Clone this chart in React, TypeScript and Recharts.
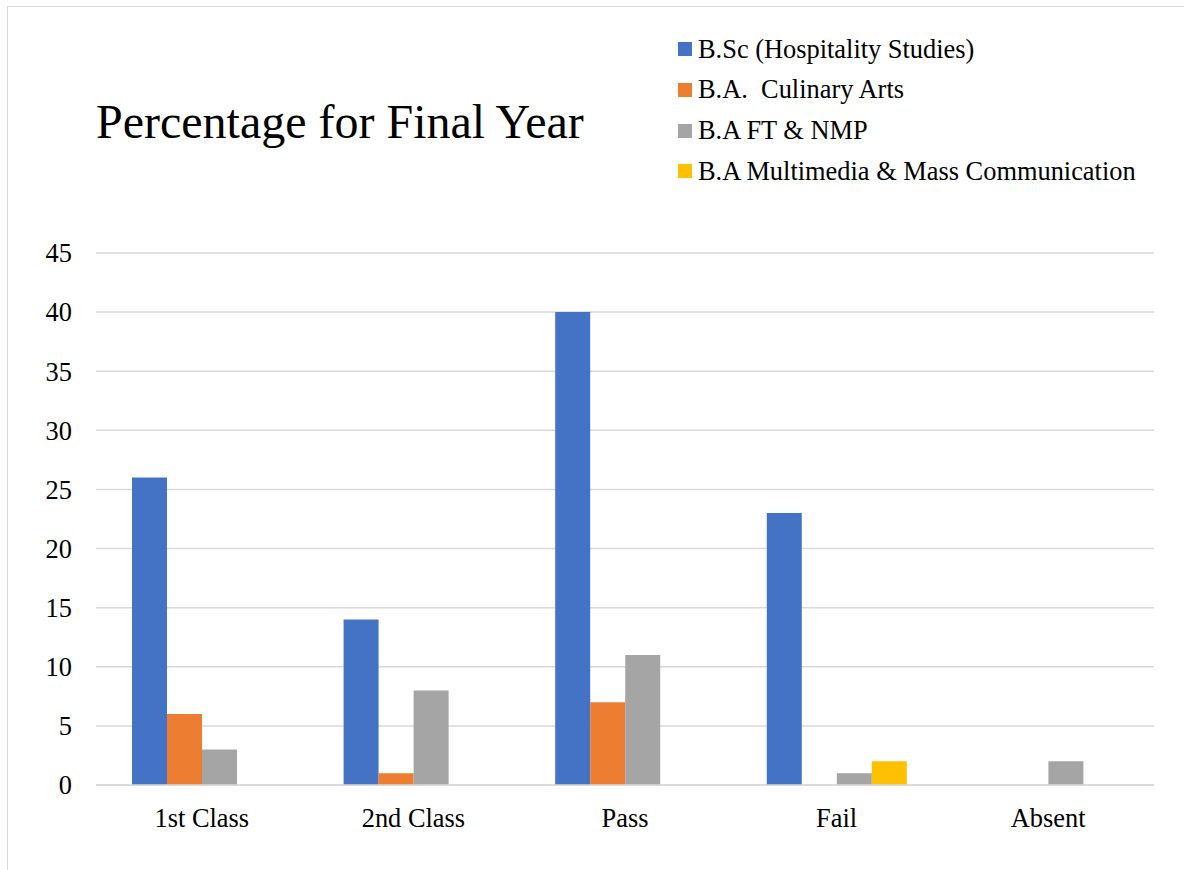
import React from 'react';
import { BarChart, Bar, XAxis, YAxis, CartesianGrid } from 'recharts';

const categories = ['1st Class', '2nd Class', 'Pass', 'Fail', 'Absent'];
const seriesNames = [
  'B.Sc (Hospitality Studies)',
  'B.A.  Culinary Arts',
  'B.A FT & NMP',
  'B.A Multimedia & Mass Communication',
];
const hospitality = [26, 14, 40, 23, 0];
const culinary = [6, 1, 7, 0, 0];
const ftNmp = [3, 8, 11, 1, 2];
const multimedia = [0, 0, 0, 2, 0];
const yTicks = [0, 5, 10, 15, 20, 25, 30, 35, 40, 45];

const COLORS = ['#4472C4', '#ED7D31', '#A5A5A5', '#FFC000'];
const FONT = '"Liberation Serif", "Times New Roman", serif';

const seriesValues = [hospitality, culinary, ftNmp, multimedia];
const data = categories.map((name, i) => ({
  name,
  s0: hospitality[i],
  s1: culinary[i],
  s2: ftNmp[i],
  s3: multimedia[i],
}));

export default function App() {
  return (
    <div style={{ position: 'absolute', left: 0, top: 0, width: 1184, height: 870, background: '#fff', overflow: 'hidden', fontFamily: FONT }}>
      {/* frame */}
      <div style={{ position: 'absolute', left: 7, top: 6, width: 1200, height: 900, border: '1.5px solid #d9d9d9', boxSizing: 'border-box' }} />

      {/* title */}
      <div style={{ position: 'absolute', left: 96, top: 98, fontSize: 48, lineHeight: 1, color: '#000', whiteSpace: 'nowrap' }}>
        Percentage for Final Year
      </div>

      {/* legend */}
      <div style={{ position: 'absolute', left: 678, top: 29 }}>
        {seriesNames.map((name, i) => (
          <div key={name} style={{ display: 'flex', alignItems: 'center', height: 40.67 }}>
            <div style={{ width: 14, height: 14, background: COLORS[i], marginRight: 6 }} />
            <span style={{ fontSize: 26.4, color: '#000', whiteSpace: 'pre' }}>{name}</span>
          </div>
        ))}
      </div>

      <div style={{ position: 'absolute', left: 0, top: 0 }}>
        <BarChart
          width={1184}
          height={870}
          data={data}
          margin={{ top: 253, right: 30, bottom: 25, left: 0 }}
          barCategoryGap={36}
          barGap={0}
        >
          <CartesianGrid vertical={false} stroke="#d9d9d9" strokeWidth={1.5} />
          <XAxis
            dataKey="name"
            height={60}
            axisLine={{ stroke: '#d9d9d9', strokeWidth: 1.5 }}
            tickLine={false}
            tickSize={6}
            tickMargin={17}
            tick={{ fill: '#000', fontSize: 26.4, fontFamily: FONT }}
            interval={0}
          />
          <YAxis
            width={96}
            domain={[0, 45]}
            ticks={yTicks}
            axisLine={false}
            tickLine={false}
            tickSize={6}
            tickMargin={18}
            tick={{ fill: '#000', fontSize: 26.4, fontFamily: FONT }}
          />
          {seriesValues.map((_, i) => (
            <Bar key={i} dataKey={`s${i}`} name={seriesNames[i]} fill={COLORS[i]} isAnimationActive={false} />
          ))}
        </BarChart>
      </div>
    </div>
  );
}
